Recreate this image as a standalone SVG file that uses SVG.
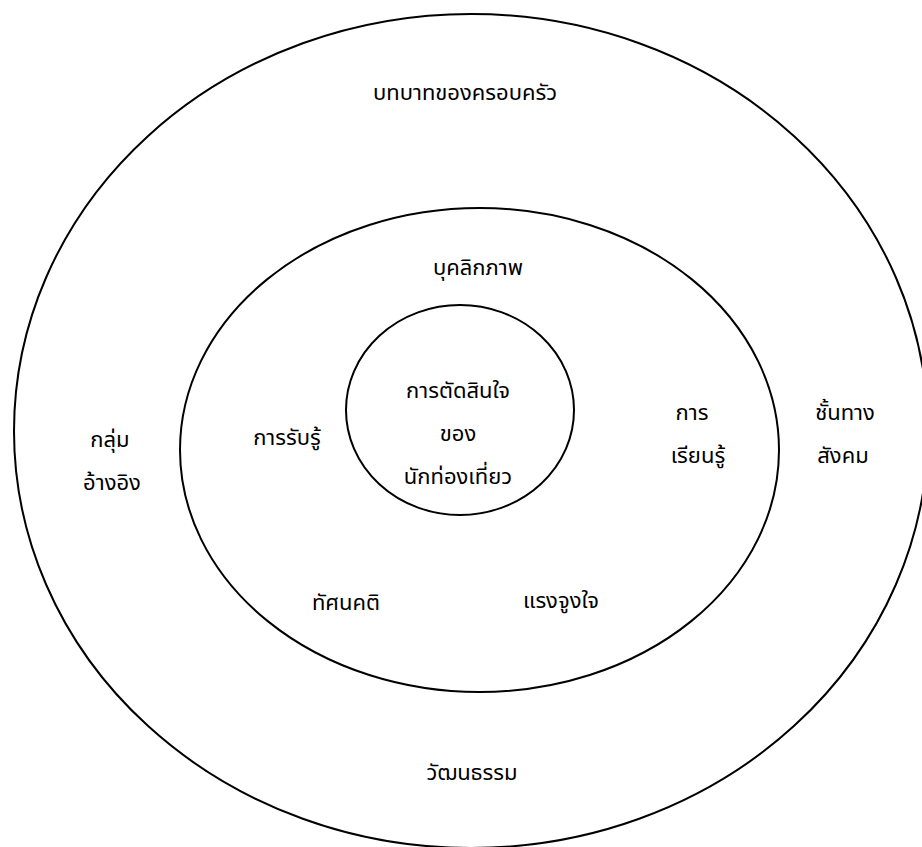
<svg xmlns="http://www.w3.org/2000/svg" width="922" height="847" viewBox="0 0 922 847">
<style>
.ring{fill:none;stroke:#000;stroke-width:2}
text{font-family:"Noto Sans Thai","Tahoma","DejaVu Sans","Noto Sans",sans-serif;font-size:22px;fill:#000;text-anchor:middle}
</style>
<rect width="922" height="847" fill="#fff"/>
<g id="outer"><ellipse class="ring" cx="471" cy="431" rx="457" ry="417"/>
<text x="465" y="100">บทบาทของครอบครัว</text>
<text x="110" y="447">กลุ่ม</text><text x="112" y="490">อ้างอิง</text>
<text x="845" y="420">ชั้นทาง</text><text x="843" y="463">สังคม</text>
<text x="472" y="780">วัฒนธรรม</text></g>
<g id="middle"><ellipse class="ring" cx="479.5" cy="450" rx="299.5" ry="242"/>
<text x="478" y="275">บุคลิกภาพ</text>
<text x="287" y="445">การรับรู้</text>
<text x="692" y="420">การ</text><text x="698" y="463">เรียนรู้</text>
<text x="346" y="610">ทัศนคติ</text>
<text x="561" y="608">แรงจูงใจ</text></g>
<g id="inner"><ellipse class="ring" cx="460" cy="410" rx="114" ry="105"/>
<text x="458" y="398">การตัดสินใจ</text>
<text x="458" y="441">ของ</text>
<text x="458" y="484">นักท่องเที่ยว</text></g>
<g id="connectors"/>
</svg>
